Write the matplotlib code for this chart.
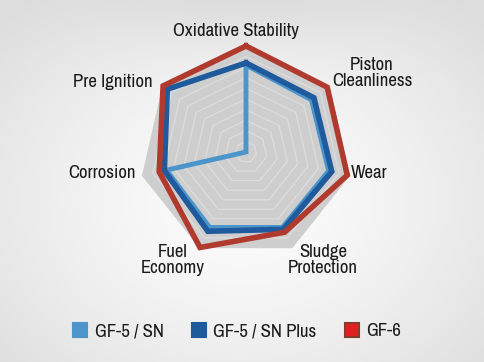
import numpy as np
import matplotlib
matplotlib.use("Agg")
import matplotlib.pyplot as plt
from matplotlib.patches import Patch

plt.rcParams['font.family'] = ['Archivo Narrow', 'Liberation Sans', 'DejaVu Sans']

categories = ["Oxidative Stability", "Piston\nCleanliness", "Wear", "Sludge\nProtection",
              "Fuel\nEconomy", "Corrosion", "Pre Ignition"]
series_names = ["GF-5 / SN", "GF-5 / SN Plus", "GF-6"]
gf5_sn = [0.82, 0.79, 0.80, 0.79, 0.79, 0.77, 0.0]
gf5_sn_plus = [0.84, 0.82, 0.83, 0.81, 0.83, 0.79, 0.95]
gf6 = [1.0, 0.98, 0.98, 0.84, 1.0, 0.84, 1.0]
series = [gf5_sn, gf5_sn_plus, gf6]
colors = ["#4b95cb", "#1f5a9c", "#b03a2e"]
widths = [3.5, 4.0, 4.0]

W, H = 484, 362
fig = plt.figure(figsize=(W / 100, H / 100), dpi=100)

# background gradient
bg = fig.add_axes([0, 0, 1, 1])
yy, xx = np.mgrid[0:H, 0:W]
d = np.sqrt(((xx - 242) / 330.0) ** 2 + ((yy - 200) / 260.0) ** 2)
img = 0.99 - 0.12 * np.clip(d, 0, 1) ** 1.4
img = img - 0.04 * np.exp(-(yy / 45.0) ** 2) * np.exp(-((xx - 242) / 140.0) ** 2)
bg.imshow(np.dstack([img, img, img]), extent=[0, W, H, 0], aspect='auto')
bg.set_xlim(0, W)
bg.set_ylim(H, 0)
bg.axis('off')

# radar
cx, cy, R = 246, 152, 106
ax = fig.add_axes([(cx - R) / W, (H - cy - R) / H, 2 * R / W, 2 * R / H], projection='polar')
ax.set_theta_offset(np.pi / 2)
ax.set_theta_direction(-1)
ax.set_ylim(0, 1.0)
ax.patch.set_alpha(0)
ax.spines['polar'].set_visible(False)
ax.grid(False)
ax.set_xticks([])
ax.set_yticks([])

n = len(categories)
angles = np.linspace(0, 2 * np.pi, n, endpoint=False)
ang = np.append(angles, angles[0])

ax.fill(ang, np.ones(n + 1), color="#cecece", zorder=1, clip_on=False)
for r in np.arange(0.1, 1.0, 0.1):
    ax.plot(ang, np.full(n + 1, r), color="#dcdcdc", lw=1.0, zorder=2)

for vals, c, lw in zip(series, colors, widths):
    v = np.append(vals, vals[0])
    ax.plot(ang, v, color=c, lw=lw, zorder=3, clip_on=False, solid_joinstyle='miter')

# axis labels (pixel positions)
label_pos = [(236, 31, 'center'), (372, 73, 'center'), (351, 173, 'left'), (323, 260, 'center'),
             (173, 260, 'center'), (136, 173, 'right'), (153, 82, 'right')]
for name, (x, y, ha) in zip(categories, label_pos):
    fig.text(x / W, 1 - y / H, name, ha=ha, va='center', fontsize=13.5, color="#1a1a1a",
             linespacing=0.95, multialignment='center')

legend_fill = ["#4b95cb", "#1f5a9c", "#e02020"]
legend_edge = ["#4b95cb", "#1f5a9c", "#8a3a28"]
handles = [Patch(facecolor=f, edgecolor=e, lw=1.5) for f, e in zip(legend_fill, legend_edge)]
fig.legend(handles, series_names, loc='center', bbox_to_anchor=(237 / W, 1 - 331 / H), ncol=3,
           frameon=False, prop={'size': 13.5}, handlelength=0.75,
           handleheight=0.75, handletextpad=0.4, columnspacing=1.5, labelcolor="#1a1a1a")

fig.savefig("out.png", dpi=100)
